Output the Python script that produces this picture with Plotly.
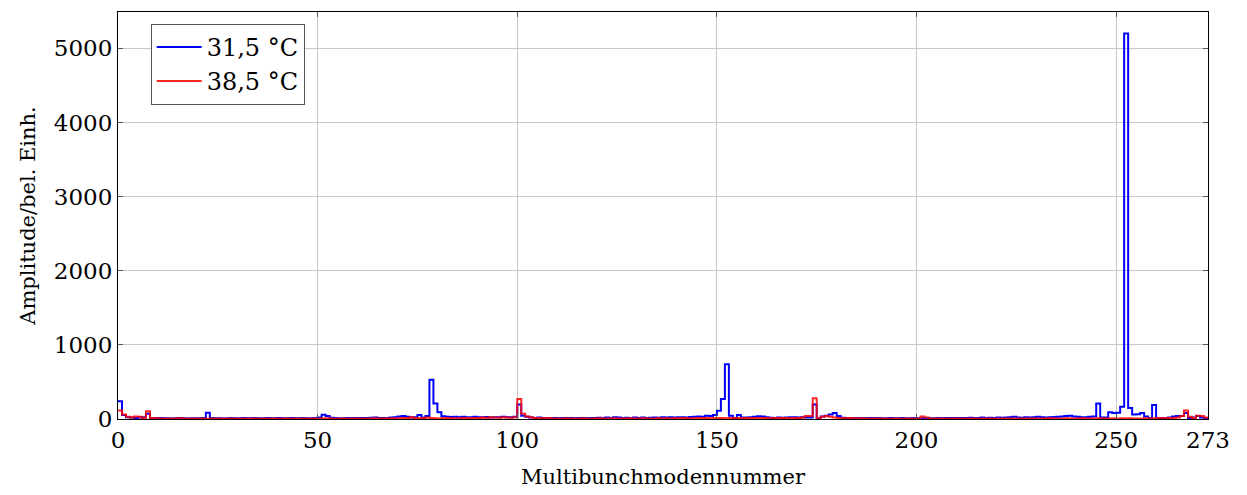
import plotly.graph_objects as go

# Multibunch mode numbers 0..273
modes = list(range(274))

# Mode amplitudes at 31,5 °C (arbitrary units)
amp_31_5 = [
    240, 55, 25, 20, 15, 20, 25, 70, 10, 10,
    12, 10, 10, 8, 10, 12, 10, 8, 10, 10,
    10, 12, 85, 15, 10, 10, 8, 10, 12, 10,
    10, 12, 10, 10, 12, 10, 10, 12, 10, 10,
    12, 10, 10, 12, 10, 10, 12, 10, 10, 15,
    20, 58, 40, 18, 12, 10, 10, 12, 10, 12,
    15, 12, 15, 18, 20, 15, 12, 15, 20, 25,
    35, 40, 30, 20, 25, 55, 20, 40, 530, 210,
    90, 36, 30, 28, 30, 25, 30, 22, 25, 30,
    25, 22, 28, 20, 25, 22, 30, 25, 25, 30,
    195, 45, 30, 20, 15, 20, 15, 12, 15, 12,
    10, 12, 15, 12, 10, 15, 12, 10, 12, 15,
    18, 15, 20, 15, 25, 20, 15, 18, 15, 20,
    15, 20, 15, 18, 20, 18, 25, 20, 25, 20,
    22, 25, 20, 28, 30, 35, 30, 45, 40, 55,
    110, 270, 740, 45, 15, 55, 20, 20, 25, 30,
    38, 35, 25, 18, 15, 20, 18, 20, 25, 22,
    20, 25, 20, 20, 195, 10, 35, 45, 60, 80,
    40, 18, 15, 12, 15, 12, 15, 10, 12, 10,
    12, 10, 10, 12, 10, 10, 12, 10, 10, 12,
    10, 8, 12, 10, 10, 12, 10, 12, 15, 12,
    15, 12, 15, 18, 15, 15, 20, 15, 18, 15,
    20, 18, 20, 25, 30, 20, 18, 22, 20, 25,
    30, 22, 20, 25, 28, 30, 35, 40, 45, 35,
    30, 25, 25, 30, 35, 210, 20, 20, 90, 80,
    85, 165, 5200, 150, 60, 65, 80, 35, 15, 190,
    15, 15, 15, 20, 35, 40, 40, 80, 15, 20,
    40, 20, 15, 15,
]

# Mode amplitudes at 38,5 °C (arbitrary units)
amp_38_5 = [
    115, 60, 30, 20, 35, 30, 15, 105, 15, 10,
    8, 6, 5, 6, 8, 10, 8, 6, 5, 6,
    8, 6, 5, 6, 8, 6, 5, 6, 8, 6,
    5, 6, 5, 8, 6, 5, 6, 5, 8, 6,
    5, 6, 8, 5, 6, 5, 6, 8, 5, 6,
    8, 6, 10, 6, 5, 8, 6, 5, 6, 8,
    6, 5, 8, 6, 10, 8, 6, 8, 10, 8,
    10, 12, 15, 25, 12, 10, 15, 20, 12, 10,
    8, 10, 12, 10, 8, 10, 12, 15, 10, 12,
    15, 20, 15, 25, 20, 18, 22, 20, 18, 25,
    270, 70, 35, 25, 15, 12, 10, 12, 10, 8,
    6, 8, 10, 8, 6, 8, 10, 8, 6, 8,
    10, 8, 6, 8, 10, 8, 6, 8, 10, 8,
    8, 10, 8, 6, 8, 10, 8, 10, 8, 10,
    10, 12, 10, 8, 10, 12, 10, 12, 10, 12,
    15, 12, 10, 12, 15, 12, 10, 12, 15, 12,
    12, 15, 12, 10, 12, 15, 12, 15, 12, 15,
    15, 20, 40, 40, 280, 10, 30, 40, 30, 20,
    15, 12, 10, 12, 10, 8, 10, 8, 6, 8,
    6, 8, 6, 5, 8, 6, 5, 6, 8, 6,
    8, 35, 20, 8, 6, 8, 6, 5, 6, 8,
    6, 5, 6, 8, 6, 5, 6, 8, 6, 5,
    6, 8, 6, 5, 6, 8, 6, 8, 6, 8,
    8, 6, 8, 10, 8, 6, 8, 10, 8, 6,
    8, 10, 8, 6, 8, 10, 8, 6, 8, 10,
    8, 10, 8, 10, 8, 6, 8, 10, 8, 10,
    12, 10, 15, 12, 15, 20, 40, 115, 30, 15,
    45, 40, 20, 30,
]

x_ticks = [0, 50, 100, 150, 200, 250, 273]
y_ticks = [0, 1000, 2000, 3000, 4000, 5000]

FONT = "DejaVu Serif"

fig = go.Figure()
fig.add_trace(go.Scatter(
    x=modes, y=amp_31_5, mode="lines", name="31,5 °C",
    line=dict(color="#0000ff", width=2, shape="hv"),
))
fig.add_trace(go.Scatter(
    x=modes, y=amp_38_5, mode="lines", name="38,5 °C",
    line=dict(color="rgba(255,0,0,0.85)", width=2, shape="hv"),
))

fig.update_layout(
    width=1247, height=495,
    margin=dict(l=118, r=39, t=11, b=75),
    paper_bgcolor="white", plot_bgcolor="white",
    font=dict(family=FONT, color="black"),
    showlegend=True,
    legend=dict(
        x=0.030, y=0.971, xanchor="left", yanchor="top",
        bgcolor="white", bordercolor="#555555", borderwidth=1,
        font=dict(family=FONT, size=24),
        tracegroupgap=0, itemwidth=45,
    ),
    xaxis=dict(
        range=[0, 273], tickvals=x_ticks, ticktext=[str(v) for v in x_ticks],
        showgrid=True, gridcolor="#c8c8c8", gridwidth=1,
        showline=True, linecolor="black", linewidth=1, mirror="ticks",
        ticks="inside", ticklen=5, tickcolor="#555555",
        tickfont=dict(family=FONT, size=23),
        zeroline=False,
        title=dict(text="Multibunchmodennummer", font=dict(family=FONT, size=21), standoff=17),
    ),
    yaxis=dict(
        range=[0, 5490], tickvals=y_ticks, ticktext=[str(v) for v in y_ticks],
        showgrid=True, gridcolor="#c8c8c8", gridwidth=1,
        showline=True, linecolor="black", linewidth=1, mirror="ticks",
        ticks="inside", ticklen=5, tickcolor="#555555",
        tickfont=dict(family=FONT, size=23),
        zeroline=False,
        title=dict(text="Amplitude/bel. Einh.", font=dict(family=FONT, size=21), standoff=12),
    ),
)

fig.write_html("out.html")
